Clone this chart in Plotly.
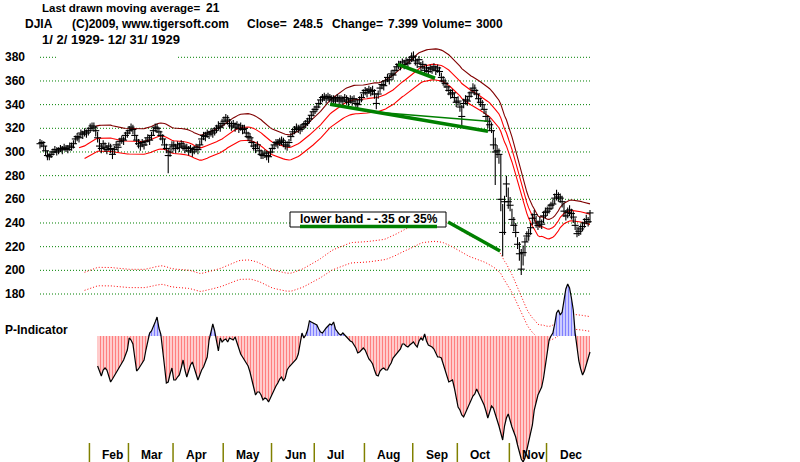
import numpy as np
import pandas as pd
import plotly.graph_objects as go

# ------------------------------------------------------------------ data
month_labels = ["Jan", "Feb", "Mar", "Apr", "May", "Jun", "Jul", "Aug", "Sep", "Oct", "Nov", "Dec"]
month_days = [27, 21, 24, 27, 26, 23, 27, 26, 24, 28, 20, 24]   # trading bars per month

close = [
    307, 308, 305, 301, 297, 296, 298, 300, 302, 300, 301, 303, 302, 304, 303, 302, 305, 304, 307, 311, 313, 312, 316, 315, 317, 316, 318,  # Jan
    320, 322, 321, 318, 312, 305, 303, 307, 304, 302, 305, 303, 298, 302, 306, 304, 309, 311, 310, 314, 316,  # Feb
    318, 321, 319, 314, 310, 307, 305, 308, 306, 309, 312, 310, 314, 318, 321, 320, 317, 314, 311, 306, 303, 297, 300, 306,  # Mar
    305, 303, 306, 304, 307, 305, 303, 304, 301, 303, 300, 302, 304, 302, 306, 311, 314, 313, 316, 315, 317, 316, 318, 320, 322, 321, 324,  # Apr
    326, 329, 327, 324, 322, 324, 321, 323, 320, 322, 319, 320, 316, 313, 312, 308, 305, 303, 306, 301, 298, 297, 299, 297, 296, 300,  # May
    303, 306, 308, 307, 309, 310, 308, 306, 305, 308, 313, 317, 319, 321, 320, 319, 321, 323, 324, 326, 328, 331, 334,  # Jun
    336, 338, 341, 344, 346, 347, 345, 347, 346, 344, 345, 343, 346, 344, 345, 343, 346, 344, 342, 345, 343, 345, 341, 340, 344, 346, 350,  # Jul
    352, 350, 353, 351, 352, 349, 341, 349, 354, 357, 356, 360, 363, 361, 366, 365, 369, 372, 374, 373, 376, 374, 377, 375, 378, 380,  # Aug
    381, 377, 375, 378, 372, 374, 369, 371, 368, 371, 370, 372, 369, 371, 368, 363, 360, 358, 355, 352, 349, 350, 346, 342,  # Sep
    343, 338, 330, 341, 344, 343, 347, 350, 354, 352, 349, 345, 342, 340, 336, 330, 326, 323, 318, 306, 300, 301, 298, 260, 232, 258, 273, 258,  # Oct
    255, 243, 238, 232, 222, 214, 201, 215, 224, 229, 231, 236, 244, 247, 240, 238, 241, 239, 246, 249,  # Nov
    250, 252, 255, 256, 261, 264, 262, 261, 258, 250, 246, 249, 251, 248, 245, 238, 231, 233, 235, 237, 240, 243, 241.1, 248.5,  # Dec
]
high = [
    311, 310, 309, 305, 301, 299, 301, 303, 305, 304, 304, 306, 305, 307, 306, 306, 308, 308, 310, 314, 316, 315, 319, 318, 320, 319, 321,
    324, 325, 325, 322, 317, 311, 307, 310, 308, 306, 308, 307, 303, 305, 309, 308, 312, 314, 313, 317, 319,
    322, 324, 323, 319, 314, 311, 309, 311, 310, 312, 315, 314, 317, 321, 324, 324, 321, 318, 315, 311, 307, 303, 305, 309,
    309, 307, 309, 308, 310, 309, 307, 307, 305, 306, 304, 305, 307, 306, 310, 314, 317, 317, 319, 318, 320, 320, 321, 323, 326, 325, 328,
    330, 332, 331, 328, 326, 327, 325, 326, 324, 325, 323, 323, 320, 317, 316, 312, 309, 307, 309, 305, 302, 301, 302, 301, 300, 303,
    306, 309, 311, 311, 312, 313, 312, 310, 309, 311, 316, 320, 322, 324, 323, 323, 324, 326, 327, 329, 331, 334, 337,
    339, 341, 344, 347, 349, 350, 349, 350, 349, 348, 348, 347, 349, 348, 348, 347, 349, 348, 346, 348, 347, 348, 345, 344, 347, 349, 353,
    355, 354, 356, 355, 356, 353, 348, 352, 357, 360, 360, 363, 366, 365, 369, 369, 372, 375, 377, 377, 379, 378, 380, 379, 381, 384,
    385, 381, 379, 381, 376, 377, 373, 374, 372, 374, 373, 375, 373, 374, 372, 367, 364, 362, 359, 356, 353, 353, 350, 346,
    347, 342, 340, 345, 348, 347, 351, 354, 358, 357, 353, 349, 346, 344, 340, 335, 331, 329, 325, 318, 312, 306, 303, 298, 256, 263, 280, 270,
    262, 252, 245, 240, 228, 224, 218, 221, 228, 233, 235, 240, 248, 251, 246, 242, 245, 243, 250, 253,
    254, 256, 258, 260, 265, 268, 266, 265, 263, 257, 251, 253, 255, 252, 250, 244, 237, 237, 239, 241, 244, 247, 245, 251,
]
low = [
    303, 304, 301, 297, 293, 293, 295, 297, 299, 297, 298, 300, 298, 301, 300, 299, 301, 301, 303, 307, 309, 308, 312, 311, 313, 312, 314,
    316, 318, 317, 313, 308, 301, 299, 302, 300, 298, 301, 299, 294, 298, 302, 300, 305, 307, 306, 310, 312,
    315, 317, 315, 310, 306, 303, 301, 304, 302, 305, 308, 306, 310, 314, 317, 316, 313, 310, 307, 302, 299, 282, 296, 301,
    301, 299, 302, 300, 303, 301, 299, 300, 297, 299, 296, 298, 300, 298, 302, 306, 310, 309, 312, 311, 313, 312, 314, 316, 318, 317, 320,
    322, 325, 323, 320, 318, 320, 317, 319, 316, 318, 315, 316, 312, 309, 308, 304, 301, 299, 302, 297, 294, 294, 295, 293, 291, 296,
    299, 302, 304, 303, 305, 306, 304, 302, 301, 304, 309, 313, 315, 317, 316, 315, 317, 319, 320, 322, 324, 327, 330,
    332, 334, 337, 340, 342, 343, 341, 343, 342, 340, 341, 339, 342, 340, 341, 339, 342, 340, 338, 341, 339, 341, 337, 336, 340, 342, 346,
    348, 346, 349, 347, 348, 345, 336, 345, 350, 353, 352, 356, 359, 357, 362, 361, 365, 368, 370, 369, 372, 370, 373, 371, 374, 376,
    377, 373, 371, 374, 368, 370, 365, 367, 364, 367, 366, 368, 365, 367, 364, 359, 356, 354, 351, 348, 345, 346, 342, 338,
    339, 334, 322, 337, 340, 339, 343, 346, 350, 348, 345, 341, 338, 336, 332, 326, 320, 318, 316, 302, 272, 295, 290, 250, 212, 230, 262, 252,
    250, 238, 233, 228, 218, 208, 196, 204, 212, 224, 225, 230, 238, 241, 236, 234, 236, 235, 240, 244,
    246, 248, 251, 252, 256, 259, 258, 257, 253, 245, 242, 244, 246, 243, 240, 234, 228, 229, 230, 233, 236, 239, 237, 240,
]

p_first_day = 31
p_indicator = [
    -30, -36, -40, -34, -32, -34, -40, -46, -43, -40,
    -37, -34, -31, -28, -24, -19, -14, -2, -4, -8,
    -20, -35, -33, -30, -28, -24, -14, -4, 3, 5,
    9, 14, 19, 8, 2, -12, -30, -47, -46, -38,
    -32, -44, -44, -41, -39, -32, -24, -34, -41, -35,
    -29, -26, -31, -38, -44, -38, -34, -31, -26, -21,
    -4, 4, 12, 5, -4, -15, -2, -6, -4, -3,
    -6, -2, -3, -4, -1, -7, -13, -18, -21, -24,
    -27, -30, -36, -43, -50, -59, -56, -56, -59, -64,
    -62, -63, -66, -62, -57, -54, -50, -47, -43, -41,
    -45, -42, -34, -31, -29, -27, -25, -23, -18, -8,
    3, -2, 1, 6, 15, 14, 13, 12, 11, 7,
    4, 3, 6, 8, 10, 12, 11, 14, 7, 4,
    2, 1, 3, 1, -1, -4, -5, -6, -9, -12,
    -17, -16, -14, -12, -14, -19, -23, -25, -28, -34,
    -39, -40, -35, -33, -32, -34, -34, -30, -27, -22,
    -20, -17, -15, -13, -8, -8, -10, -11, -9, -7,
    -6, -9, -11, -5, -2, -4, 2, -5, -9, -10,
    -11, -13, -18, -21, -21, -22, -28, -34, -41, -46,
    -45, -44, -52, -61, -71, -74, -79, -81, -77, -73,
    -68, -65, -60, -58, -53, -57, -61, -65, -69, -75,
    -82, -76, -70, -72, -77, -84, -90, -98, -104, -90,
    -82, -78, -85, -91, -96, -101, -109, -116, -123, -126,
    -122, -114, -106, -96, -89, -74, -65, -59, -55, -51,
    -42, -30, -14, -4, 0, 3, 12, 23, 26, 21,
    24, 38, 47, 52, 48, 38, 26, 3, -12, -25,
    -33, -39, -35, -29, -22, -16,
]

y_ticks = [180, 200, 220, 240, 260, 280, 300, 320, 340, 360, 380]

ma_period = 21
band_pct = 0.035
far_band_factors = [0.65, 0.60]

# hand-drawn trend lines: (day0, price0, day1, price1, width)
trendlines = [
    (156.1, 340.3, 241.1, 317.6, 3.5),
    (181.4, 333.6, 241.1, 326.0, 1.5),
    (192.7, 374.1, 212.6, 362.3, 3.5),
    (219.6, 240.8, 247.6, 216.3, 3.5),
]

# header text pieces: (text, left x in px, font size)
header_line1 = [("Last drawn moving average=", 40, 11.5), ("21", 204, 12)]
header_line2 = [("DJIA", 23, 12), ("(C)2009, www.tigersoft.com", 70, 12), ("Close=", 245, 12),
                ("248.5", 291, 12), ("Change=", 330, 12), ("7.399", 386, 12), ("Volume=", 420, 12),
                ("3000", 474, 12)]
header_line3 = [("1/ 2/ 1929- 12/ 31/ 1929", 40, 13)]
box_text = "lower band - -.35 or 35%"

n = len(close)
assert len(high) == n and len(low) == n, (len(close), len(high), len(low))
assert sum(month_days) == n, (sum(month_days), n)
assert len(p_indicator) == n - p_first_day, (len(p_indicator), n - p_first_day)

# ------------------------------------------------------------------ geometry
W, H = 800, 462
FONT = "Liberation Sans, Arial, sans-serif"
x_left_px, x_right_px = 40, 590
px_per_day = (x_right_px - x_left_px) / (n - 1)
xa = -x_left_px / px_per_day
xb = xa + W / px_per_day

px_per_unit = 1.1835
y_top = 380 + 57.3 / px_per_unit
y_bot = y_top - H / px_per_unit

p_zero_px = 336
y2_range = [p_zero_px - H, p_zero_px]

days = np.arange(n)
ma = pd.Series(close, dtype=float).rolling(ma_period).mean().to_numpy()


def masked(arr, start):
    a = np.array(arr, dtype=float)
    a[:start] = np.nan
    return a


upper = masked(ma * (1 + band_pct), 30)
mid = masked(ma, 21)
lower = masked(ma * (1 - band_pct), 24)

fig = go.Figure()

# P-indicator: hatched area below zero (red) / above zero (blue) + black outline
p_days = days[p_first_day:]
p_arr = np.array(p_indicator, dtype=float)
for part, col in ((np.minimum(p_arr, 0), "#ff0000"), (np.maximum(p_arr, 0), "#0000ff")):
    fig.add_trace(go.Scatter(x=p_days, y=part, mode="lines", line=dict(width=0, color=col),
                             fill="tozeroy", fillcolor="rgba(0,0,0,0)",
                             fillpattern=dict(shape="|", fgcolor=col, bgcolor="white", size=3,
                                              solidity=0.6),
                             yaxis="y2", hoverinfo="skip"))
fig.add_trace(go.Scatter(x=p_days, y=p_indicator, mode="lines", line=dict(color="black", width=1.2),
                         yaxis="y2", hoverinfo="skip"))

# far lower bands (dotted)
for f in far_band_factors:
    fig.add_trace(go.Scatter(x=days, y=masked(ma * f, 24), mode="lines",
                             line=dict(color="#ff0000", width=1, dash="1px,2px"), hoverinfo="skip"))

# moving-average bands
fig.add_trace(go.Scatter(x=days, y=upper, mode="lines", line=dict(color="#800000", width=1.1), hoverinfo="skip"))
fig.add_trace(go.Scatter(x=days, y=mid, mode="lines", line=dict(color="#ff0000", width=1.1), hoverinfo="skip"))
fig.add_trace(go.Scatter(x=days, y=lower, mode="lines", line=dict(color="#ff0000", width=1.1), hoverinfo="skip"))

# price bars: high-low line + close tick
hl_x, hl_y = [], []
for d, h, l in zip(days, high, low):
    hl_x += [d, d, None]
    hl_y += [l, h, None]
fig.add_trace(go.Scatter(x=hl_x, y=hl_y, mode="lines", line=dict(color="black", width=1.1), hoverinfo="skip"))
fig.add_trace(go.Scatter(x=days, y=close, mode="markers",
                         marker=dict(symbol="line-ew", size=5, line=dict(color="black", width=1.1)),
                         hoverinfo="skip"))

shapes = []
# dotted green grid lines
for v in y_ticks:
    shapes.append(dict(type="line", xref="paper", yref="y", x0=x_left_px / W, x1=x_right_px / W, y0=v, y1=v,
                       line=dict(color="#008000", width=1, dash="1px,2px"), layer="below"))
# gap in the top grid line under the header
shapes.append(dict(type="rect", xref="paper", yref="paper", x0=56 / W, x1=176 / W,
                   y0=1 - 60 / H, y1=1 - 54 / H, fillcolor="white", line=dict(width=0), layer="below"))

# month separators
starts = np.cumsum([0] + month_days[:-1])
for i in range(1, len(month_labels)):
    shapes.append(dict(type="line", xref="x", yref="paper", x0=starts[i] - 0.4, x1=starts[i] - 0.4,
                       y0=0, y1=(H - 443) / H, line=dict(color="#808000", width=1.5)))

# trend lines
for d0, p0, d1, p1, w in trendlines:
    shapes.append(dict(type="line", xref="x", yref="y", x0=d0, y0=p0, x1=d1, y1=p1,
                       line=dict(color="#008000", width=w), layer="above"))

# annotation box + underline
shapes.append(dict(type="rect", xref="paper", yref="paper", x0=290 / W, x1=446 / W,
                   y0=1 - 227 / H, y1=1 - 212 / H, fillcolor="white", line=dict(color="black", width=1),
                   layer="above"))
shapes.append(dict(type="line", xref="paper", yref="paper", x0=300 / W, x1=437 / W,
                   y0=1 - 226.5 / H, y1=1 - 226.5 / H, line=dict(color="#008000", width=3.5), layer="above"))

annotations = []


def txt(text, xpx, ypx, anchor="left", size=12):
    annotations.append(dict(text="<b>" + text + "</b>", xref="paper", yref="paper", x=xpx / W, y=1 - ypx / H,
                            xanchor=anchor, yanchor="middle", showarrow=False,
                            font=dict(family=FONT, size=size, color="black")))


for t, xp, fs in header_line1:
    txt(t, xp, 8, size=fs)
for t, xp, fs in header_line2:
    txt(t, xp, 24.5, size=fs)
for t, xp, fs in header_line3:
    txt(t, xp, 39.5, size=fs)
txt("P-Indicator", 3, 330)
txt(box_text, 368.5, 219.5, anchor="center")

for v in y_ticks:
    annotations.append(dict(text="<b>%d</b>" % v, xref="paper", yref="y", x=27 / W, y=v, xanchor="right",
                            yanchor="middle", showarrow=False, font=dict(family=FONT, size=12, color="black")))

for i in range(1, len(month_labels)):
    annotations.append(dict(text="<b>%s</b>" % month_labels[i], xref="x", yref="paper", x=starts[i] - 0.4,
                            xshift=11, y=1 - 455 / H, xanchor="left", yanchor="middle", showarrow=False,
                            font=dict(family=FONT, size=12, color="black")))

fig.update_layout(
    width=W, height=H, autosize=False,
    margin=dict(l=0, r=0, t=0, b=0, pad=0),
    paper_bgcolor="white", plot_bgcolor="white",
    showlegend=False,
    xaxis=dict(range=[xa, xb], visible=False, showgrid=False, zeroline=False),
    yaxis=dict(range=[y_bot, y_top], visible=False, showgrid=False, zeroline=False),
    yaxis2=dict(range=y2_range, overlaying="y", visible=False, showgrid=False, zeroline=False),
    shapes=shapes, annotations=annotations,
)

fig.write_html("out.html", config={"displayModeBar": False, "staticPlot": True},
               post_script="document.body.style.margin='0';document.body.style.overflow='hidden';")
